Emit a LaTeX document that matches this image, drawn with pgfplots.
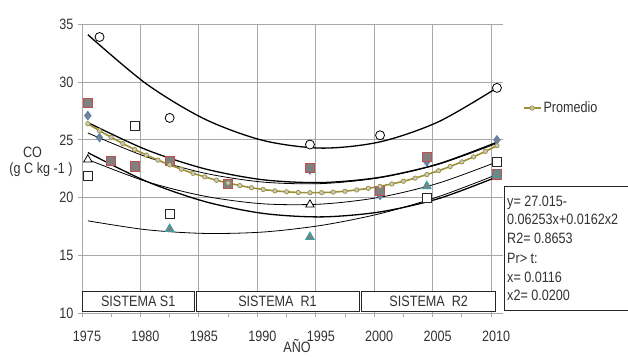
\documentclass[border=0pt]{standalone}
\usepackage{pgfplots}
\pgfplotsset{compat=1.18}
\usepackage{fontspec}
\setmainfont{Liberation Sans}[FakeStretch=0.84]
\definecolor{gridc}{RGB}{168,168,168}
\definecolor{markgray}{RGB}{128,128,128}
\definecolor{redb}{RGB}{192,80,77}
\definecolor{blueb}{RGB}{79,129,189}
\definecolor{tealb}{RGB}{55,160,165}
\definecolor{olivec}{RGB}{155,145,50}
\definecolor{promfill}{RGB}{200,200,200}
\definecolor{txt}{RGB}{50,50,50}
\newcommand\cf{\fontsize{15}{18}\selectfont}
\begin{document}
\begin{tikzpicture}[x=1pt,y=1pt]
\path[use as bounding box] (0,0) rectangle (628,356);
\begin{axis}[
  at={(82pt,42.7pt)}, anchor=south west,
  scale only axis, width=420.8pt, height=289pt,
  xmin=1975, xmax=2011, ymin=10, ymax=35,
  separate axis lines,
  axis x line*=bottom, axis y line*=left,
  axis line style={-, draw=gridc, line width=0.8pt},
  xtick={1975,1980,1985,1990,1995,2000,2005,2010},
  xticklabels={1975,1980,1985,1990,1995,2000,2005,2010},
  minor xtick={1977.5,1982.5,1987.5,1992.5,1997.5,2002.5,2007.5},
  ytick={10,15,20,25,30,35},
  yticklabels={10,15,20,25,30,35},
  xmajorgrids, ymajorgrids,
  major grid style={draw=gridc, line width=0.8pt},
  tick align=outside,
  major tick length=4pt, minor tick length=4pt,
  tick style={draw=gridc, line width=0.8pt},
  ticklabel style={font=\cf, text=txt},
  /pgf/number format/assume math mode=true,
  xticklabel style={yshift=-10pt, xshift=5pt},
  yticklabel style={xshift=-1pt},
  legend style={at={(1.040,0.710)}, anchor=west, draw=none, fill=none, font=\cf, text=txt},
  legend cell align=left,
  clip=false,
]
% fitted curves
\addplot[forget plot, black, line width=1.3pt, smooth] coordinates {
(1975.5,34.10)(1980.5,29.85)(1985.5,26.80)(1990.5,24.95)(1995.5,24.29)(2000.5,24.83)(2005.5,26.57)(2010.5,29.50)};
\addplot[forget plot, black, line width=1.3pt, smooth] coordinates {
(1975.5,26.50)(1980.5,24.15)(1985.5,22.50)(1990.5,21.55)(1995.5,21.31)(2000.5,21.77)(2005.5,22.93)(2010.5,24.80)};
\addplot[forget plot, black, line width=0.8pt, smooth] coordinates {
(1975.5,25.60)(1980.5,23.54)(1985.5,22.12)(1990.5,21.35)(1995.5,21.22)(2000.5,21.73)(2005.5,22.89)(2010.5,24.70)};
\addplot[forget plot, black, line width=1.3pt, smooth] coordinates {
(1975.5,23.90)(1980.5,21.42)(1985.5,19.67)(1990.5,18.64)(1995.5,18.34)(2000.5,18.77)(2005.5,19.92)(2010.5,21.80)};
\addplot[forget plot, black, line width=0.8pt, smooth] coordinates {
(1975.5,23.30)(1980.5,21.40)(1985.5,20.13)(1990.5,19.47)(1995.5,19.45)(2000.5,20.04)(2005.5,21.26)(2010.5,23.10)};
\addplot[forget plot, black, line width=0.8pt, smooth] coordinates {
(1975.5,18.00)(1980.5,17.23)(1985.5,16.91)(1990.5,17.03)(1995.5,17.61)(2000.5,18.62)(2005.5,20.09)(2010.5,22.00)};
% data markers
\addplot[forget plot, only marks, mark=*, mark size=4.5pt, mark options={fill=white, draw=black, line width=0.8pt}] coordinates {
(1976.5,33.9)(1982.5,26.9)(1994.5,24.6)(2000.5,25.4)(2010.5,29.5)};
\addplot[forget plot, only marks, mark=diamond*, mark size=4.2pt, mark options={fill=markgray, draw=blueb, line width=0.9pt}] coordinates {
(1975.5,27.1)(1976.5,25.2)(1994.5,22.4)(2000.5,20.2)(2004.5,23.1)(2010.5,25.0)};
\addplot[forget plot, only marks, mark=square*, mark size=4.6pt, mark options={fill=markgray, draw=redb, line width=1pt}] coordinates {
(1975.5,28.2)(1977.5,23.2)(1979.5,22.7)(1982.5,23.2)(1987.5,21.2)(1994.5,22.6)(2000.5,20.6)(2004.5,23.5)(2010.5,22.0)};
\addplot[forget plot, only marks, mark=triangle*, mark size=4.8pt, mark options={fill=white, draw=black, line width=0.8pt}] coordinates {
(1975.5,23.3)(1994.5,19.4)};
\addplot[forget plot, only marks, mark=square*, mark size=4.4pt, mark options={fill=white, draw=black!85, line width=0.8pt}] coordinates {
(1975.5,21.9)(1979.5,26.2)(1982.5,18.6)(2004.5,20.0)(2010.5,23.1)};
\addplot[forget plot, only marks, mark=triangle*, mark size=4.8pt, mark options={fill=markgray, draw=tealb, line width=1pt}] coordinates {
(1982.5,17.3)(1994.5,16.6)(2004.5,21.0)(2010.5,22.0)};
% promedio
\addplot[olivec, line width=1.6pt, mark=*, mark size=2.2pt, mark options={fill=promfill, draw=olivec, line width=0.7pt}] coordinates {
(1975.5,26.40)(1976.5,25.79)(1977.5,25.22)(1978.5,24.68)(1979.5,24.17)(1980.5,23.69)
(1981.5,23.25)(1982.5,22.84)(1983.5,22.46)(1984.5,22.11)(1985.5,21.80)(1986.5,21.51)
(1987.5,21.27)(1988.5,21.05)(1989.5,20.86)(1990.5,20.71)(1991.5,20.59)(1992.5,20.51)
(1993.5,20.45)(1994.5,20.43)(1995.5,20.44)(1996.5,20.48)(1997.5,20.56)(1998.5,20.67)
(1999.5,20.81)(2000.5,20.98)(2001.5,21.19)(2002.5,21.42)(2003.5,21.69)(2004.5,22.00)
(2005.5,22.33)(2006.5,22.70)(2007.5,23.10)(2008.5,23.53)(2009.5,24.00)(2010.5,24.50)};
\addlegendentry{Promedio}
\end{axis}
% system boxes
\draw[fill=white, draw=black!85, line width=0.8pt] (82,45) rectangle (194.3,65);
\node[font=\cf, text=txt] at (138.2,55) {SISTEMA S1};
\draw[fill=white, draw=black!85, line width=0.8pt] (196,45) rectangle (359,65);
\node[font=\cf, text=txt] at (277.5,55) {SISTEMA\ \ R1};
\draw[fill=white, draw=black!85, line width=0.8pt] (361.7,45) rectangle (495.7,65);
\node[font=\cf, text=txt] at (428.7,55) {SISTEMA\ \ R2};
% equation box
\draw[fill=white, draw=black!85, line width=0.8pt] (504.3,45.3) rectangle (640,170);
\node[font=\cf, text=txt, anchor=base west, inner sep=0pt] at (507,149.8) {y= 27.015-};
\node[font=\cf, text=txt, anchor=base west, inner sep=0pt] at (507,131.2) {0.06253x+0.0162x2};
\node[font=\cf, text=txt, anchor=base west, inner sep=0pt] at (507,112.2) {R2= 0.8653};
\node[font=\cf, text=txt, anchor=base west, inner sep=0pt] at (507,92.2) {Pr> t:};
\node[font=\cf, text=txt, anchor=base west, inner sep=0pt] at (507,73.8) {x= 0.0116};
\node[font=\cf, text=txt, anchor=base west, inner sep=0pt] at (507,55.5) {x2= 0.0200};
% axis titles
\node[font=\cf, text=txt] at (32.5,203.3) {CO};
\node[font=\cf, text=txt] at (41,186) {(g C kg -1 )};
\node[font=\cf, text=txt, anchor=base, inner sep=0pt] at (297,3.2) {AÑO};
\end{tikzpicture}
\end{document}
